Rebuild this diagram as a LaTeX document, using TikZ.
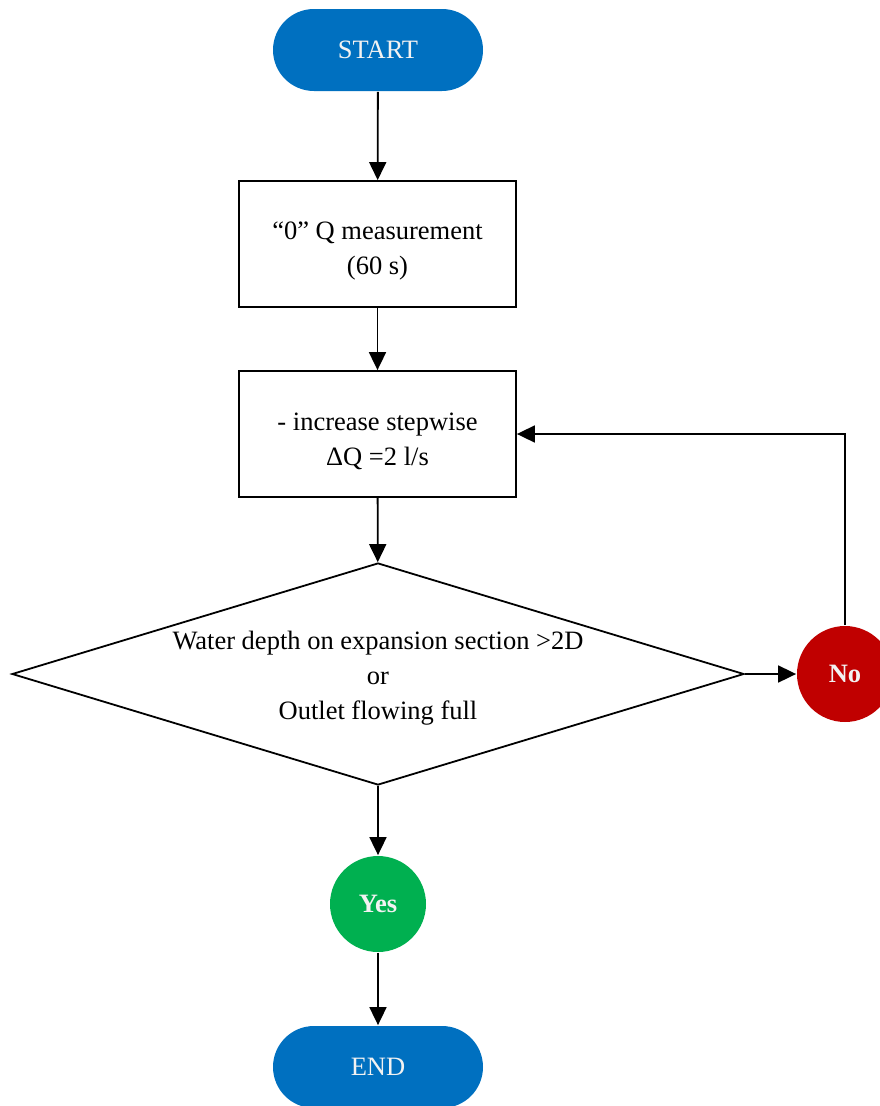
\documentclass[tikz,border=0pt]{standalone}
\usepackage{fontspec}
\setmainfont{Liberation Serif}
\usetikzlibrary{arrows.meta}
\usetikzlibrary{shapes.geometric}

\definecolor{pillblue}{HTML}{0070C0}
\definecolor{nored}{HTML}{C00000}
\definecolor{yesgreen}{HTML}{00B050}
\definecolor{softwhite}{HTML}{F2F2F2}

\begin{document}
\begin{tikzpicture}[x=1pt, y=-1pt, line width=1.8pt,
        >={Triangle[length=18pt,width=17pt]},
        every node/.style={font=\fontsize{26.5}{35}\selectfont, align=center},
        pill/.style={fill=pillblue, text=softwhite, rounded corners=41pt, minimum width=210pt, minimum height=82pt},
        stepbox/.style={draw, minimum width=277pt, minimum height=126pt},
        decision/.style={draw, diamond, inner sep=0pt, minimum width=732pt, minimum height=222pt},
        answer/.style={circle, text=softwhite, minimum size=96pt, font=\fontsize{26.5}{35}\selectfont\bfseries}]
        \useasboundingbox (0,0) rectangle (880,1106);

        \node[pill] (start) at (378,50) {START};
        \node[stepbox] (measure) at (377.5,244) {};
        \node (measuretext) at (377.5,251) {“0” Q measurement\\(60 s)};
        \node[stepbox] (increase) at (377.5,434) {};
        \node (increasetext) at (377.5,441) {- increase stepwise\\ΔQ =2 l/s};
        \node[decision] (check) at (378,674) {};
        \node (checktext) at (378,678) {Water depth on expansion section >2D\\or\\Outlet flowing full};
        \node[answer, fill=nored] (no) at (845,674) {No};
        \node[answer, fill=yesgreen] (yes) at (378,904) {Yes};
        \node[pill] (end) at (378,1067) {END};

        \draw [->] (start) -- (measure);
        \draw [->] (measure) -- (increase);
        \draw [->] (increase) -- (check);
        \draw [->] (check.east) -- (no.west);
        \draw [->] (no.north) |- (increase.east);
        \draw [->] (check.south) -- (yes);
        \draw [->] (yes) -- (end);
    \end{tikzpicture}
\end{document}
